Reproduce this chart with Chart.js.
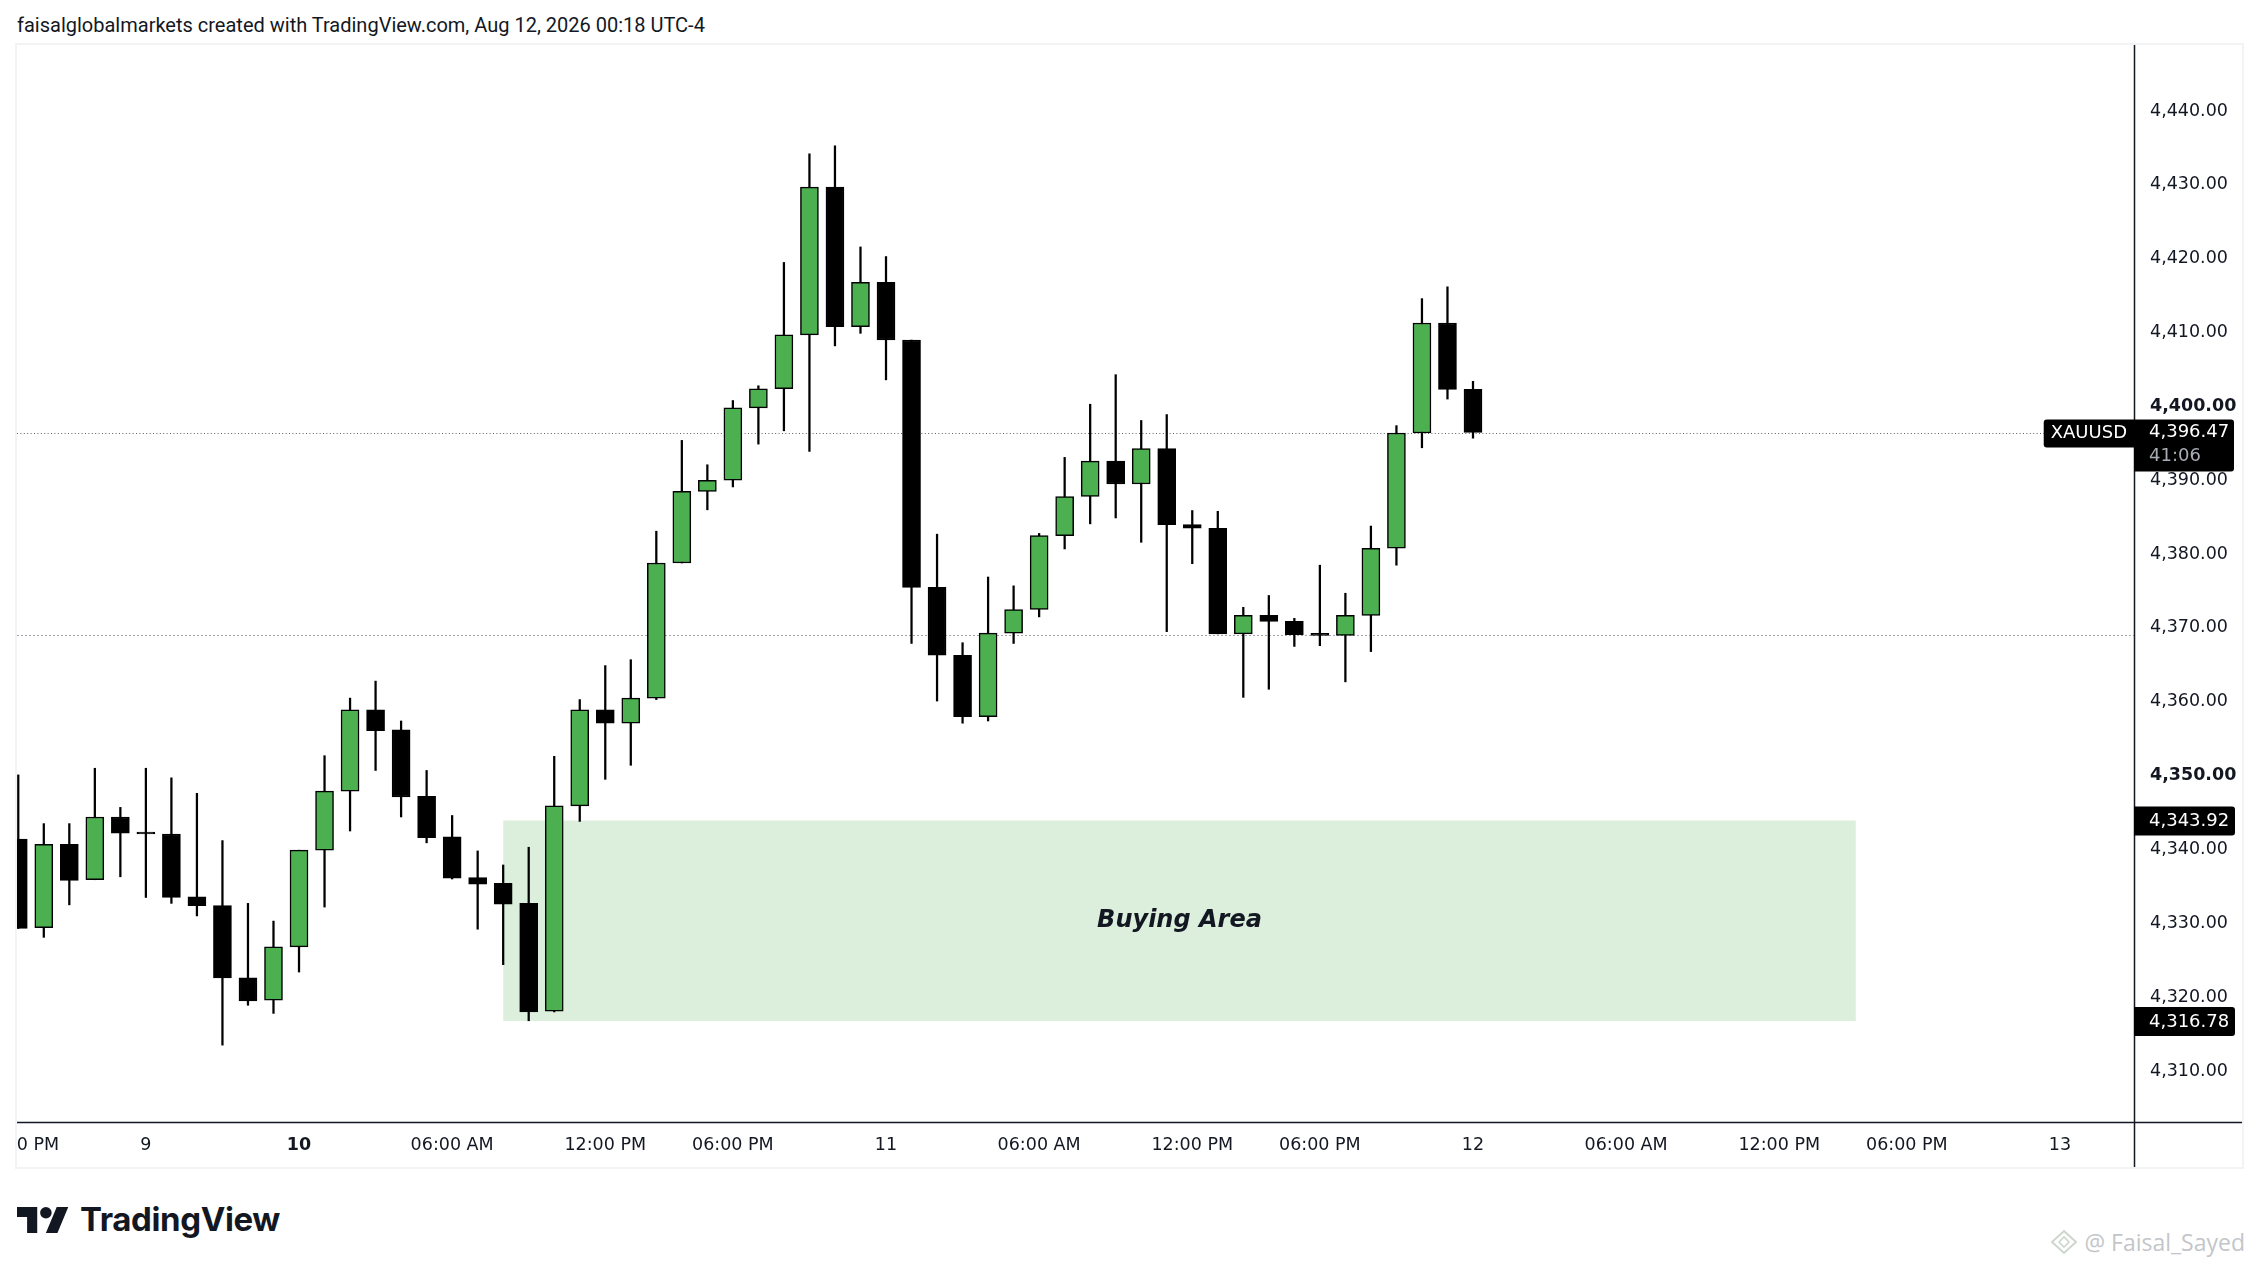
<!DOCTYPE html>
<html>
<head>
<meta charset="utf-8">
<script src="https://cdn.jsdelivr.net/npm/chart.js@4.4.1/dist/chart.umd.min.js"></script>
<style>
  html, body { margin: 0; padding: 0; background: #fff; }
  body { width: 2259px; height: 1267px; position: relative; overflow: hidden; color: #131722; }
  #title { position: absolute; left: 17px; top: 15px; font: 20px Roboto, sans-serif; line-height: 1; white-space: nowrap; }
  #border { position: absolute; left: 15px; top: 43px; width: 2225px; height: 1122px; border: 2px solid #f2f3f5; }
  #frame { position: absolute; left: 17px; top: 45px; width: 2225px; height: 1122px; }
  #logo { position: absolute; left: 17px; top: 1203px; display: flex; align-items: center; gap: 11px; }
  #logo span { font: bold 33px Inter, sans-serif; letter-spacing: -0.4px; line-height: 1; }
  #mark { position: absolute; right: 14px; top: 1229px; display: flex; align-items: center; gap: 6px; color: #c3c6c9; font: 23px "Open Sans", sans-serif; line-height: 1; }
</style>
</head>
<body>
<div id="title">faisalglobalmarkets created with TradingView.com, Aug 12, 2026 00:18 UTC-4</div>
<div id="border"></div>
<div id="frame"><canvas id="chart"></canvas></div>
<div id="logo">
  <svg width="52" height="26" viewBox="0 4 36 18"><path fill="#131722" d="M14 22H7V11H0V4h14v18zM28 22h-8l7.5-18h8L28 22z"/><circle fill="#131722" cx="20" cy="8" r="4"/></svg>
  <span>TradingView</span>
</div>
<div id="mark">
  <svg width="28" height="26" viewBox="0 0 28 26"><path d="M14 2 L26 13 L14 24 L2 13 Z" fill="none" stroke="#cdd6cd" stroke-width="2"/><path d="M9 13 L14 8 L19 13 L14 18 Z" fill="none" stroke="#cdd6cd" stroke-width="1.6"/></svg>
  <span>@ Faisal_Sayed</span>
</div>
<script>
// hourly candles, first one is Aug 7 12:00 PM (slot -11, slot 0 = Aug 10 00:00)
const firstSlot = -11;
const opens = [4341.4, 4329.4, 4340.7, 4335.9, 4344.4, 4342.2, 4342.1, 4333.6, 4332.4, 4322.6,
  4319.6, 4326.8, 4339.9, 4347.9, 4358.9, 4356.2, 4347.2, 4341.7, 4336.2, 4335.4,
  4332.7, 4318.1, 4345.9, 4358.9, 4357.1, 4360.5, 4378.8, 4388.5, 4390.0, 4399.8,
  4402.4, 4409.7, 4429.7, 4410.8, 4416.8, 4409.0, 4375.5, 4366.3, 4358.0, 4369.3,
  4372.5, 4382.5, 4387.8, 4392.6, 4389.5, 4394.3, 4384.0, 4383.5, 4369.2, 4371.7,
  4370.9, 4369.1, 4369.0, 4371.7, 4380.8, 4396.4, 4411.3, 4402.3];
const highs = [4350.1, 4343.5, 4343.5, 4351.0, 4345.7, 4351.0, 4349.7, 4347.6, 4341.2, 4332.7,
  4330.3, 4339.9, 4352.7, 4360.5, 4362.8, 4357.4, 4350.7, 4344.6, 4339.8, 4337.9,
  4340.3, 4352.6, 4360.3, 4364.9, 4365.7, 4383.1, 4395.4, 4392.1, 4400.8, 4402.8,
  4419.5, 4434.2, 4435.3, 4421.6, 4420.3, 4409.0, 4382.7, 4368.0, 4376.9, 4375.7,
  4382.8, 4393.1, 4400.3, 4404.3, 4398.1, 4398.9, 4385.9, 4385.8, 4372.8, 4374.4,
  4371.3, 4378.5, 4374.7, 4383.8, 4397.4, 4414.6, 4416.2, 4403.4];
const lows = [4329.3, 4328.1, 4332.5, 4335.9, 4336.3, 4333.5, 4332.7, 4331.0, 4313.5, 4318.9,
  4317.8, 4323.4, 4332.2, 4342.5, 4350.7, 4344.4, 4340.9, 4336.0, 4329.2, 4324.4,
  4316.8, 4318.0, 4343.8, 4349.5, 4351.4, 4360.3, 4378.8, 4386.0, 4389.1, 4394.9,
  4396.7, 4393.9, 4408.2, 4409.9, 4403.6, 4367.9, 4360.1, 4357.1, 4357.4, 4367.9,
  4371.5, 4380.7, 4384.1, 4384.9, 4381.6, 4369.5, 4378.7, 4369.2, 4360.6, 4361.7,
  4367.5, 4367.6, 4362.7, 4366.8, 4378.5, 4394.4, 4401.0, 4395.7];
const closes = [4329.3, 4340.7, 4335.8, 4344.4, 4342.2, 4342.1, 4333.5, 4332.4, 4322.6, 4319.5,
  4326.8, 4339.9, 4347.9, 4358.9, 4356.1, 4347.1, 4341.6, 4336.1, 4335.3, 4332.6,
  4318.0, 4345.9, 4358.9, 4357.1, 4360.5, 4378.8, 4388.5, 4390.0, 4399.8, 4402.4,
  4409.7, 4429.7, 4410.8, 4416.8, 4409.0, 4375.5, 4366.3, 4358.0, 4369.3, 4372.5,
  4382.5, 4387.8, 4392.6, 4389.5, 4394.3, 4384.0, 4383.5, 4369.2, 4371.7, 4370.9,
  4369.1, 4369.0, 4371.7, 4380.8, 4396.4, 4411.3, 4402.3, 4396.47];

// time axis
const tickSlots = [-11, -6, 0, 6, 12, 17, 23, 29, 35, 40, 46, 52, 58, 63, 69];
const tickTexts = ['12:00 PM', '9', '10', '06:00 AM', '12:00 PM', '06:00 PM', '11', '06:00 AM',
  '12:00 PM', '06:00 PM', '12', '06:00 AM', '12:00 PM', '06:00 PM', '13'];
const boldTicks = ['10'];

// price marks
const symbol = 'XAUUSD';
const lastPrice = 4396.47;
const countdown = '41:06';
const refPrice = 4369.0;
const zoneTop = 4343.92;
const zoneBottom = 4316.78;
const zoneFrom = 8;
const zoneTo = 61;
const zoneText = 'Buying Area';

const slots = opens.map((_, k) => firstSlot + k);
const bodyColors = opens.map((o, k) => closes[k] > o ? '#4caf50' : '#000000');
const fmt = v => v.toLocaleString('en-US', {minimumFractionDigits: 2, maximumFractionDigits: 2});
const labelFor = v => { const k = tickSlots.indexOf(v); return k < 0 ? '' : tickTexts[k]; };
const axisFont = '17.5px "DejaVu Sans", sans-serif';

const overlay = {
  id: 'overlay',
  beforeDatasetsDraw(chart) {
    const {ctx, chartArea: a, scales: {x, y}} = chart;
    ctx.save();
    // buying zone
    const x1 = x.getPixelForValue(zoneFrom), x2 = x.getPixelForValue(zoneTo);
    const y1 = y.getPixelForValue(zoneTop), y2 = y.getPixelForValue(zoneBottom);
    ctx.fillStyle = 'rgba(76,175,80,0.2)';
    ctx.fillRect(x1, y1, x2 - x1, y2 - y1);
    ctx.fillStyle = '#131722';
    ctx.font = 'italic bold 24px "DejaVu Sans", sans-serif';
    ctx.textAlign = 'center';
    ctx.textBaseline = 'middle';
    ctx.fillText(zoneText, (x1 + x2) / 2, (y1 + y2) / 2);
    // dotted price lines
    ctx.lineWidth = 1;
    const yr = Math.round(y.getPixelForValue(refPrice)) + 0.5;
    ctx.strokeStyle = '#a3a6af';
    ctx.setLineDash([2, 2]);
    ctx.beginPath(); ctx.moveTo(a.left, yr); ctx.lineTo(a.right, yr); ctx.stroke();
    const yl = Math.round(y.getPixelForValue(lastPrice)) + 0.5;
    ctx.strokeStyle = '#5d606b';
    ctx.setLineDash([1, 2.4]);
    ctx.beginPath(); ctx.moveTo(a.left, yl); ctx.lineTo(a.right, yl); ctx.stroke();
    ctx.restore();
  },
  afterDraw(chart) {
    const {ctx, chartArea: a, scales: {y}, width, height} = chart;
    ctx.save();
    // axis lines
    ctx.strokeStyle = '#131722';
    ctx.lineWidth = 1.5;
    ctx.beginPath();
    ctx.moveTo(0, a.bottom + 0.5); ctx.lineTo(width, a.bottom + 0.5);
    ctx.moveTo(a.right + 0.5, 0); ctx.lineTo(a.right + 0.5, height);
    ctx.stroke();
    ctx.font = '18px "DejaVu Sans", sans-serif';
    ctx.textBaseline = 'middle';
    ctx.textAlign = 'left';
    const tx = a.right + 15;
    // last price tag
    const yl = y.getPixelForValue(lastPrice);
    ctx.fillStyle = '#000';
    const sw = ctx.measureText(symbol).width + 14;
    ctx.beginPath(); ctx.roundRect(a.right - sw, yl - 13, sw, 28, [3, 0, 0, 3]); ctx.fill();
    ctx.beginPath(); ctx.roundRect(a.right, yl - 13, 100, 52, [0, 3, 3, 0]); ctx.fill();
    ctx.fillStyle = '#fff';
    ctx.fillText(symbol, a.right - sw + 7, yl + 1);
    ctx.fillText(fmt(lastPrice), tx, yl);
    ctx.fillStyle = '#a9acb4';
    ctx.fillText(countdown, tx, yl + 24);
    // zone tags
    [zoneTop, zoneBottom].forEach(p => {
      const py = y.getPixelForValue(p);
      ctx.fillStyle = '#000';
      ctx.beginPath(); ctx.roundRect(a.right, py - 14, 101, 29, [0, 3, 3, 0]); ctx.fill();
      ctx.fillStyle = '#fff';
      ctx.fillText(fmt(p), tx, py + 1);
    });
    ctx.restore();
  }
};

new Chart('chart', {
  type: 'bar',
  data: {
    datasets: [
      {
        data: slots.map((s, k) => ({x: s, y: [opens[k], closes[k]]})),
        backgroundColor: bodyColors,
        borderColor: '#000',
        borderWidth: 1.5,
        borderSkipped: false,
        barThickness: 18,
        minBarLength: 2,
        grouped: false,
        order: 0
      },
      {
        data: slots.map((s, k) => ({x: s, y: [lows[k], highs[k]]})),
        backgroundColor: '#000',
        borderWidth: 0,
        barThickness: 1.6,
        grouped: false,
        order: 1
      }
    ]
  },
  options: {
    responsive: true,
    maintainAspectRatio: false,
    animation: false,
    layout: {padding: 0},
    plugins: {legend: {display: false}, tooltip: {enabled: false}},
    scales: {
      x: {
        type: 'linear',
        min: -11.05,
        max: 71.9,
        offset: false,
        grid: {display: false, drawTicks: false},
        border: {display: false},
        afterBuildTicks: s => { s.ticks = tickSlots.map(v => ({value: v})); },
        afterFit: s => { s.height = 45; s.paddingLeft = 0; s.paddingRight = 0; },
        ticks: {
          autoSkip: false,
          maxRotation: 0,
          padding: 13,
          color: '#131722',
          font: c => ({family: '"DejaVu Sans", sans-serif', size: 17.5,
            weight: c.tick && boldTicks.includes(labelFor(c.tick.value)) ? 'bold' : 'normal'}),
          callback: v => labelFor(v)
        }
      },
      y: {
        type: 'linear',
        position: 'right',
        min: 4303.09,
        max: 4448.95,
        grid: {display: false, drawTicks: false},
        border: {display: false},
        afterFit: s => { s.width = 108; s.paddingTop = 0; s.paddingBottom = 0; },
        ticks: {
          stepSize: 10,
          includeBounds: false,
          padding: 16,
          color: '#131722',
          font: c => ({family: '"DejaVu Sans", sans-serif', size: 17.5,
            weight: c.tick && c.tick.value % 50 === 0 ? 'bold' : 'normal'}),
          callback: v => fmt(v)
        }
      }
    }
  },
  plugins: [overlay]
});
</script>
</body>
</html>
